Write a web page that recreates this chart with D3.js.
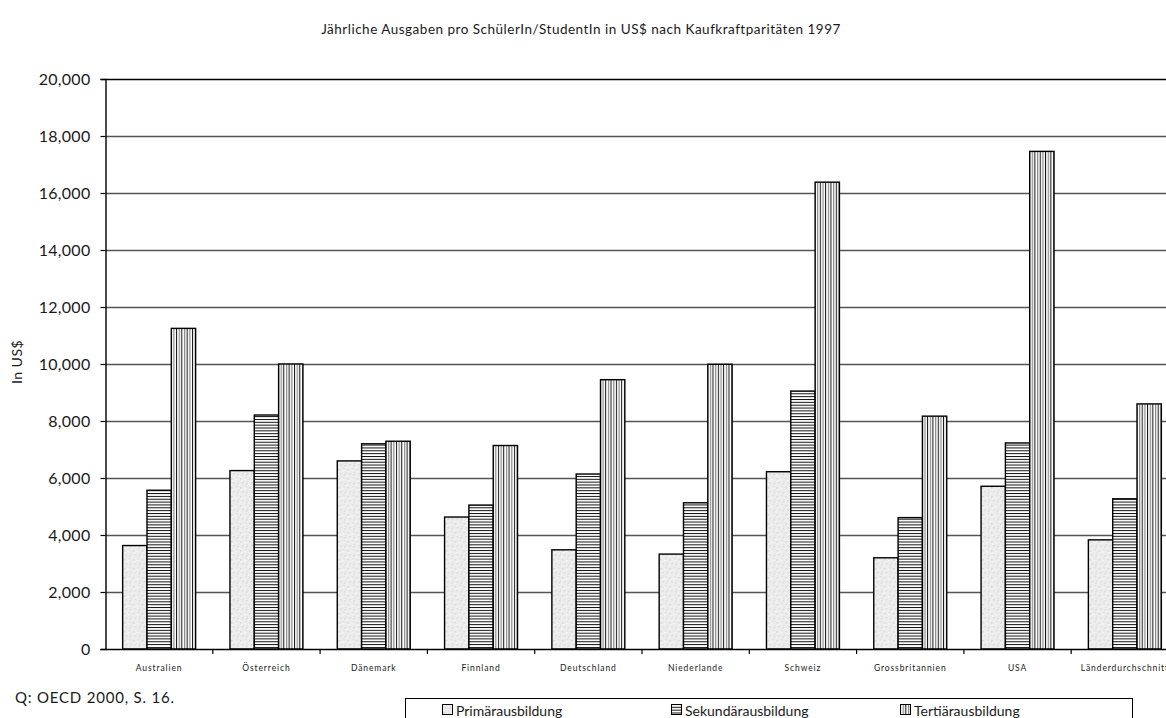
<!DOCTYPE html>
<html>
<head>
<meta charset="utf-8">
<script src="https://cdn.jsdelivr.net/npm/d3@7"></script>
<style>
  html, body { margin: 0; padding: 0; background: #fff; overflow: hidden; }
  svg { display: block; }
  text { font-family: Lato, "Open Sans", sans-serif; fill: #1a1a1a; }
</style>
</head>
<body>
<svg id="chart" width="1166" height="718"></svg>
<script>
// ---- data ----
const title = "Jährliche Ausgaben pro SchülerIn/StudentIn in US$ nach Kaufkraftparitäten 1997";
const yLabel = "In US$";
const source = "Q: OECD 2000, S. 16.";
const categories = ["Australien", "Österreich", "Dänemark", "Finnland", "Deutschland", "Niederlande", "Schweiz", "Grossbritannien", "USA", "Länderdurchschnitt"];
const seriesNames = ["Primärausbildung", "Sekundärausbildung", "Tertiärausbildung"];
const primary   = [3630, 6260, 6600, 4630, 3480, 3330, 6220, 3200, 5710, 3830];
const secondary = [5570, 8210, 7200, 5050, 6140, 5130, 9050, 4610, 7230, 5270];
const tertiary  = [11250, 10000, 7290, 7140, 9450, 9990, 16380, 8170, 17460, 8600];
const yTicks = [0, 2000, 4000, 6000, 8000, 10000, 12000, 14000, 16000, 18000, 20000];

const seriesValues = [primary, secondary, tertiary];

const svg = d3.select("#chart");
const defs = svg.append("defs");

// primary: light grey stipple
const p1 = defs.append("pattern").attr("id", "pat0").attr("patternUnits", "userSpaceOnUse")
  .attr("width", 9).attr("height", 9);
p1.append("rect").attr("width", 9).attr("height", 9).attr("fill", "#ececec");
[[1,1,"#d6d6d6"],[5,2,"#f7f7f7"],[3,5,"#dadada"],[7,6,"#d9d9d9"],[0,7,"#f5f5f5"],[6,0,"#e0e0e0"],[2,3,"#f4f4f4"],[8,4,"#dedede"]]
  .forEach(([x,y,c]) => p1.append("rect").attr("x", x).attr("y", y).attr("width", 1.5).attr("height", 1.5).attr("fill", c));

// secondary: horizontal lines
const p2 = defs.append("pattern").attr("id", "pat1").attr("patternUnits", "userSpaceOnUse")
  .attr("width", 6).attr("height", 2.85);
p2.append("rect").attr("width", 6).attr("height", 2.85).attr("fill", "#fff");
p2.append("rect").attr("y", 0).attr("width", 6).attr("height", 1).attr("fill", "#111");

// tertiary: vertical lines alternating black / grey
const pw = 16 / 3;
const p3 = defs.append("pattern").attr("id", "pat2").attr("patternUnits", "userSpaceOnUse")
  .attr("width", pw).attr("height", 6);
p3.append("rect").attr("width", pw).attr("height", 6).attr("fill", "#fff");
p3.append("rect").attr("x", 0).attr("width", 1).attr("height", 6).attr("fill", "#111");
p3.append("rect").attr("x", pw / 2).attr("width", 1.2).attr("height", 6).attr("fill", "#8a8a8a");

// ---- scales ----
const x0 = 105.5, bandW = 107.3;
const x = d3.scaleBand().domain(categories).range([x0, x0 + bandW * categories.length]).padding(0);
const y = d3.scaleLinear().domain([0, 20000]).range([649, 79]);
const groupW = x.bandwidth() * 0.68;
const xs = d3.scaleBand().domain(seriesNames).range([0, groupW]).padding(0);

// gridlines
svg.append("g").selectAll("line").data(yTicks.filter(d => d > 0)).join("line")
  .attr("x1", x0).attr("x2", 1166)
  .attr("y1", d => Math.round(y(d)) + 0.5).attr("y2", d => Math.round(y(d)) + 0.5)
  .attr("stroke", d => d === 20000 ? "#000" : "#555").attr("stroke-width", 1.4);

// bars
const groups = svg.append("g").selectAll("g").data(categories).join("g")
  .attr("transform", d => `translate(${x(d) + (x.bandwidth() - groupW) / 2},0)`);
groups.selectAll("rect").data((c, i) => seriesNames.map((s, j) => ({ s, j, v: seriesValues[j][i] }))).join("rect")
  .attr("x", d => xs(d.s))
  .attr("width", xs.bandwidth())
  .attr("y", d => y(d.v))
  .attr("height", d => y(0) - y(d.v))
  .attr("fill", d => `url(#pat${d.j})`)
  .attr("stroke", "#000").attr("stroke-width", 1.4);

// y axis
const yAxis = d3.axisLeft(y).tickValues(yTicks).tickSize(5).tickPadding(10)
  .tickFormat(d3.format(","));
const gy = svg.append("g").attr("transform", `translate(${x0},0)`).call(yAxis);
gy.select(".domain").attr("stroke", "#000").attr("stroke-width", 1.4);
gy.selectAll(".tick line").attr("stroke", "#000").attr("stroke-width", 1.2);
gy.selectAll("text").style("font-size", "16px").style("letter-spacing", "0.3px").attr("fill", "#1a1a1a").style("font-family", "Lato, sans-serif");

// x axis
const xAxis = d3.axisBottom(x).tickSize(0).tickPadding(16);
const gx = svg.append("g").attr("transform", `translate(0,${y(0)})`).call(xAxis);
gx.select(".domain").attr("stroke", "#000").attr("stroke-width", 1.4);
gx.selectAll("text").style("font-size", "8.5px").style("letter-spacing", "0.9px")
  .attr("fill", "#1a1a1a").style("font-family", "Lato, sans-serif");
// category separators
svg.append("g").selectAll("line").data(categories.slice(1)).join("line")
  .attr("x1", d => x(d)).attr("x2", d => x(d))
  .attr("y1", y(0)).attr("y2", y(0) + 5)
  .attr("stroke", "#000").attr("stroke-width", 1.2);

// title
svg.append("text").attr("x", 581).attr("y", 34).attr("text-anchor", "middle")
  .style("font-size", "13.5px").style("letter-spacing", "0.5px").text(title);

// y label
svg.append("text").attr("transform", "translate(22,362) rotate(-90)").attr("text-anchor", "middle")
  .style("font-size", "14px").style("letter-spacing", "0.5px").text(yLabel);

// source
svg.append("text").attr("x", 15).attr("y", 703).style("font-size", "15px").style("letter-spacing", "0.8px").text(source);

// legend
const legend = svg.append("g");
legend.append("rect").attr("x", 405.5).attr("y", 698.5).attr("width", 727).attr("height", 40)
  .attr("fill", "#fff").attr("stroke", "#000").attr("stroke-width", 1);
const legX = [442, 671, 900];
const li = legend.selectAll("g").data(seriesNames).join("g")
  .attr("transform", (d, i) => `translate(${legX[i]},0)`);
li.append("rect").attr("x", 0.5).attr("y", 704.5).attr("width", 10).attr("height", 10)
  .attr("fill", (d, i) => `url(#pat${i})`).attr("stroke", "#000").attr("stroke-width", 1);
li.append("text").attr("x", 14).attr("y", 715.5).style("font-size", "14px").text(d => d);
</script>
</body>
</html>
